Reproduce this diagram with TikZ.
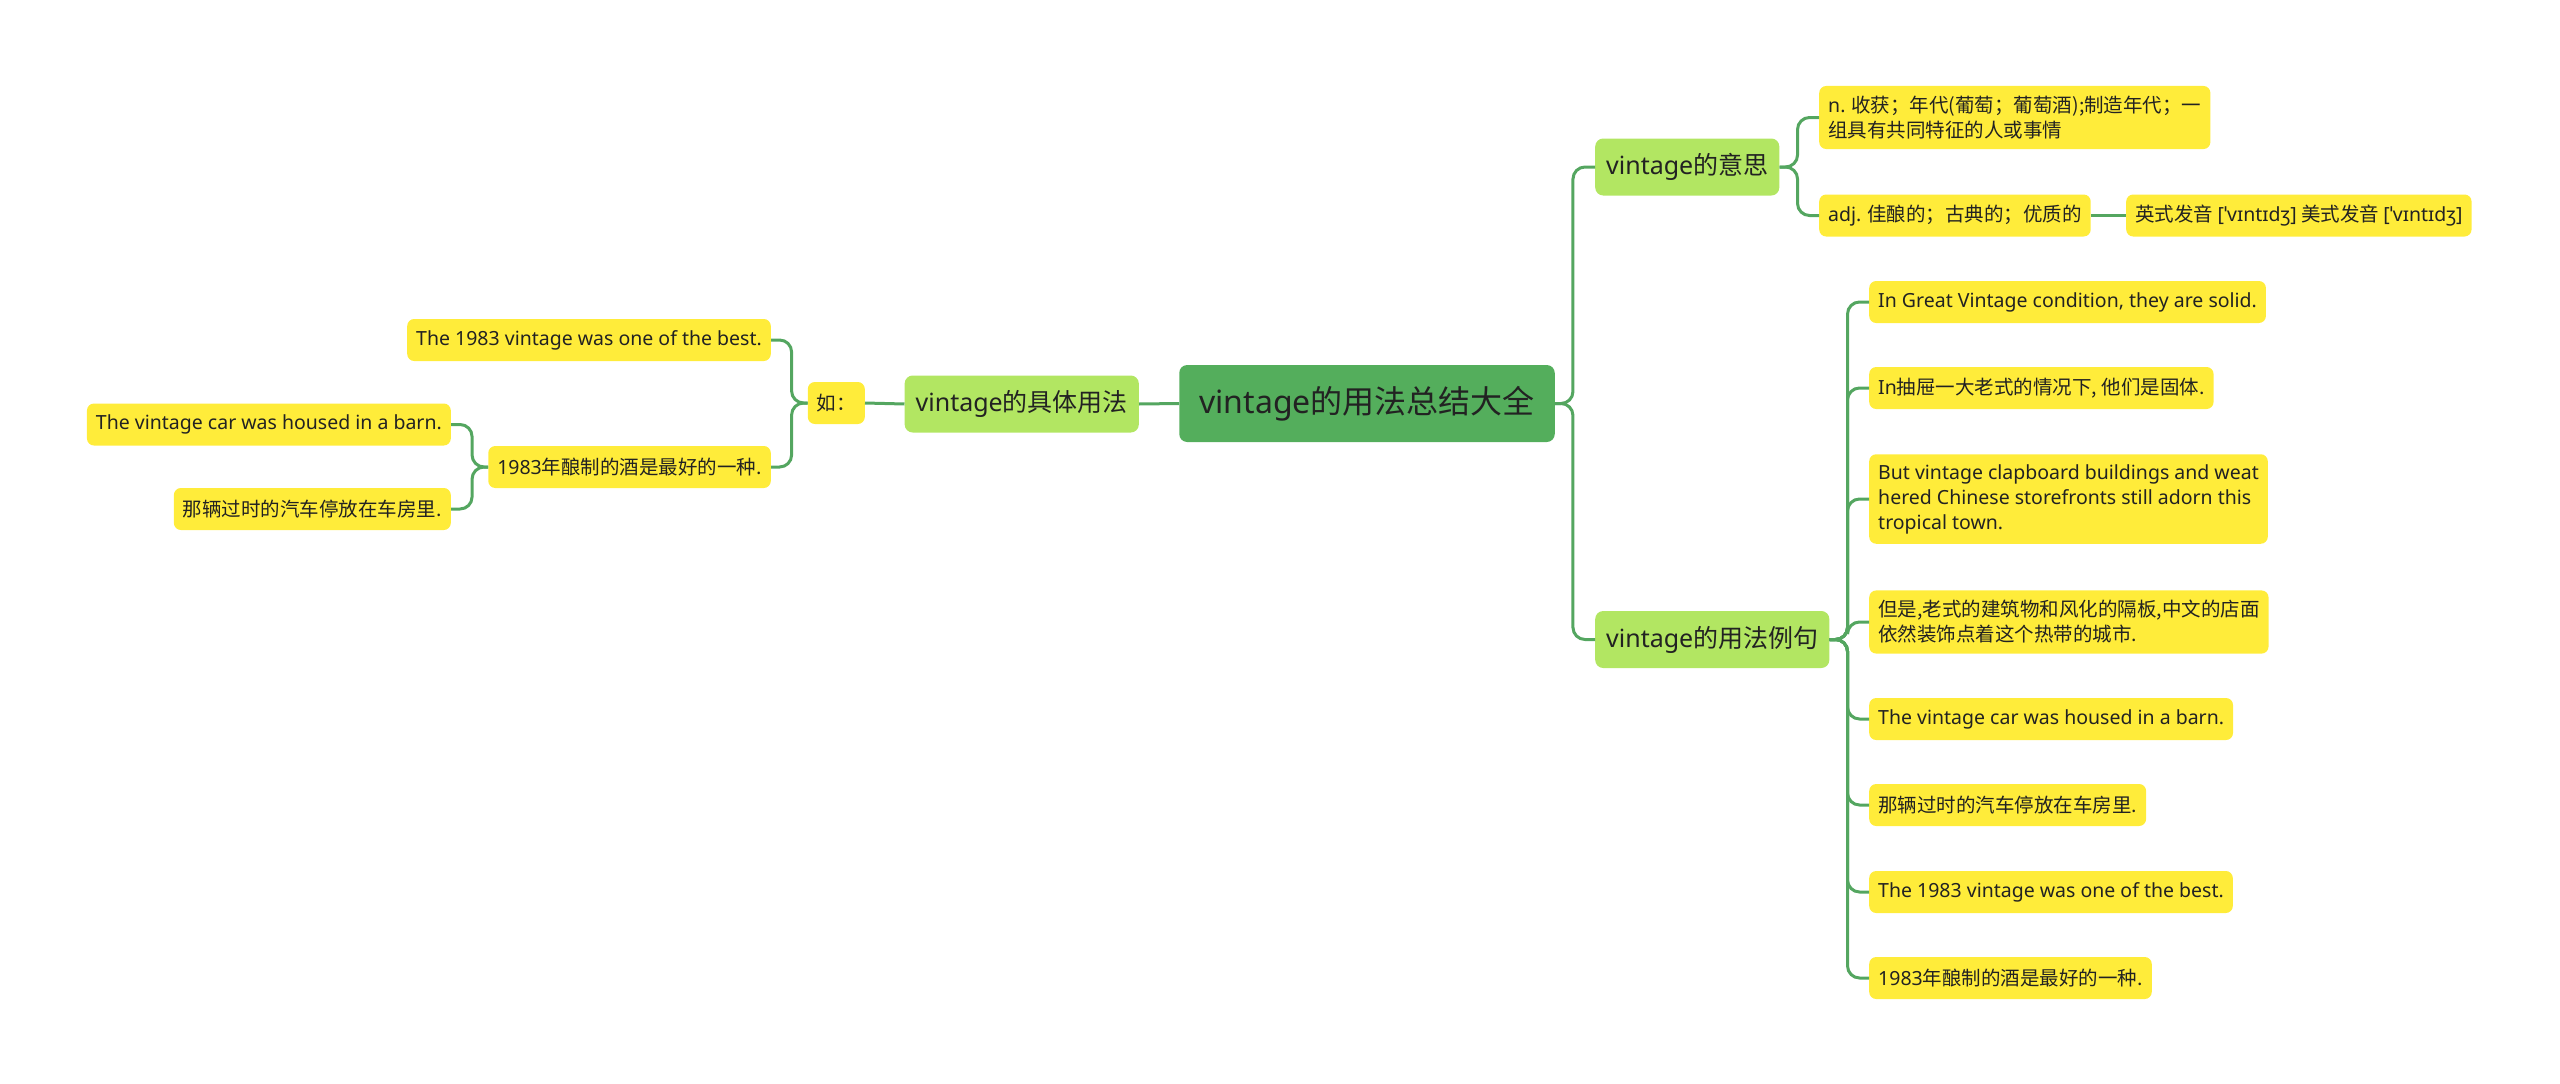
\documentclass[tikz,border=0pt]{standalone}
\usepackage{fontspec}
\setmainfont{Noto Sans CJK SC}
\newfontfamily\latfont{Noto Sans}
\newcommand{\lat}[1]{{\latfont #1}}
\usetikzlibrary{positioning}
\definecolor{rootgreen}{RGB}{84,174,92}
\definecolor{subgreen}{RGB}{178,230,98}
\definecolor{leafyellow}{RGB}{255,236,58}
\definecolor{linkgreen}{RGB}{84,166,96}
\definecolor{inkdark}{RGB}{34,34,34}

\begin{document}
\begin{tikzpicture}[x=1pt, y=-1pt,
  rootbox/.style={rectangle, rounded corners=8pt, fill=rootgreen, text=inkdark, font=\fontsize{32}{36}\selectfont, minimum height=77pt, inner xsep=20pt},
  subbox/.style={rectangle, rounded corners=8pt, fill=subgreen, text=inkdark, font=\fontsize{25}{28}\selectfont, minimum height=57pt, inner xsep=11pt},
  leafbox/.style={rectangle, rounded corners=7pt, fill=leafyellow, text=inkdark, font=\fontsize{19.5}{25}\selectfont, minimum height=42pt, inner xsep=9pt, inner ysep=10pt, align=left},
  link/.style={draw=linkgreen, line width=3pt, rounded corners=12pt}]
\useasboundingbox (0,0) rectangle (2560,1084);
% centre
\node[rootbox] (root) at (1367,403.5) {\lat{vintage}的用法总结大全};
% right: meaning
\node[subbox, anchor=west] (mean) at (1595,167) {\lat{vintage}的意思};
\node[leafbox, anchor=west] (m1) at (1819,117.5) {\lat{n.} 收获；年代(葡萄；葡萄酒);制造年代；一\\组具有共同特征的人或事情};
\node[leafbox, anchor=west] (m2) at (1819,215.5) {\lat{adj.} 佳酿的；古典的；优质的};
\node[leafbox, anchor=west] (m2a) at (2126,215.5) {英式发音 \lat{[ˈvɪntɪdʒ]} 美式发音 \lat{[ˈvɪntɪdʒ]}};
% right: examples
\node[subbox, anchor=west] (use) at (1595,639.5) {\lat{vintage}的用法例句};
\node[leafbox, anchor=west] (e1) at (1869,302) {\lat{In Great Vintage condition, they are solid.}};
\node[leafbox, anchor=west] (e2) at (1869,388) {\lat{In}抽屉一大老式的情况下, 他们是固体.};
\node[leafbox, anchor=west] (e3) at (1869,499) {\lat{But vintage clapboard buildings and weat}\\\lat{hered Chinese storefronts still adorn this}\\\lat{tropical town.}};
\node[leafbox, anchor=west] (e4) at (1869,622) {但是,老式的建筑物和风化的隔板,中文的店面\\依然装饰点着这个热带的城市.};
\node[leafbox, anchor=west] (e5) at (1869,719) {\lat{The vintage car was housed in a barn.}};
\node[leafbox, anchor=west] (e6) at (1869,805) {那辆过时的汽车停放在车房里.};
\node[leafbox, anchor=west] (e7) at (1869,892) {\lat{The 1983 vintage was one of the best.}};
\node[leafbox, anchor=west] (e8) at (1869,978) {\lat{1983}年酿制的酒是最好的一种.};
% left: usage
\node[subbox, anchor=east] (how) at (1139,404) {\lat{vintage}的具体用法};
\node[leafbox, anchor=east] (eg) at (865,403) {如：};
\node[leafbox, anchor=east] (l1) at (771,340) {\lat{The 1983 vintage was one of the best.}};
\node[leafbox, anchor=east] (l2) at (771,467) {\lat{1983}年酿制的酒是最好的一种.};
\node[leafbox, anchor=east] (l2a) at (451,424.5) {\lat{The vintage car was housed in a barn.}};
\node[leafbox, anchor=east] (l2b) at (451,509) {那辆过时的汽车停放在车房里.};
% connectors
\draw[link] (root.east) -- ++(18,0) |- (mean.west);
\draw[link] (root.east) -- ++(18,0) |- (use.west);
\draw[link] (mean.east) -- ++(18,0) |- (m1.west);
\draw[link] (mean.east) -- ++(18,0) |- (m2.west);
\draw[link] (m2.east) -- (m2a.west);
\foreach \n in {e1,e2,e3,e4,e5,e6,e7,e8}
  \draw[link] (use.east) -- ++(18,0) |- (\n.west);
\draw[link] (root.west) -- (how.east);
\draw[link] (how.west) -- (eg.east);
\draw[link] (eg.west) -- ++(-16,0) |- (l1.east);
\draw[link] (eg.west) -- ++(-16,0) |- (l2.east);
\draw[link] (l2.west) -- ++(-16,0) |- (l2a.east);
\draw[link] (l2.west) -- ++(-16,0) |- (l2b.east);
\end{tikzpicture}
\end{document}
